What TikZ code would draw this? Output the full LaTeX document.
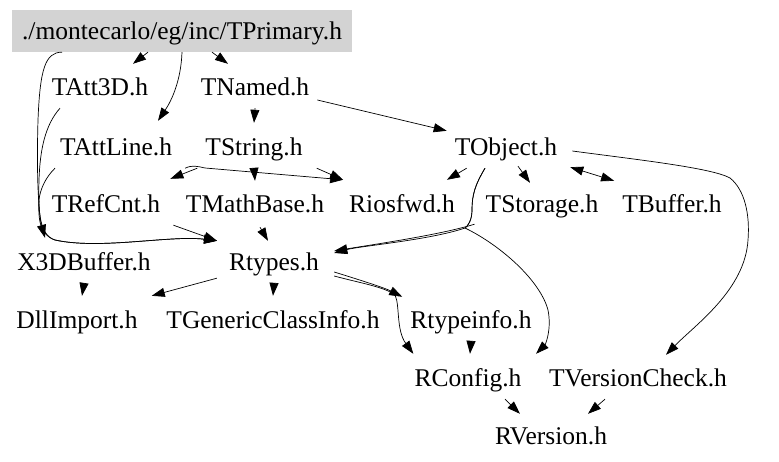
\documentclass[tikz,border=0pt]{standalone}
\usepackage{fontspec}
\setmainfont{Liberation Serif}
\usetikzlibrary{arrows.meta}
\definecolor{boxgray}{RGB}{211,211,211}
\begin{document}
\begin{tikzpicture}[x=1pt,y=-1pt,
  hdr/.style={font=\fontsize{25.5}{26}\selectfont, text height=17.5pt, text depth=0pt,
     inner xsep=8pt, inner ysep=12.25pt, anchor=center},
  rootbox/.style={hdr, fill=boxgray, inner xsep=10pt},
  dep/.style={line width=0.7pt, -{Triangle[length=13pt,width=9pt]}},
  bidep/.style={line width=0.7pt, {Triangle[length=13pt,width=9pt]}-{Triangle[length=13pt,width=9pt]}}
]
\useasboundingbox (0,0) rectangle (779,462);
\fill[white] (0,0) rectangle (779,462);

\node[rootbox] (tprim) at (182,31) {./montecarlo/eg/inc/TPrimary.h};
\node[hdr] (tatt3d) at (100,87) {TAtt3D.h};
\node[hdr] (tnamed) at (255,87) {TNamed.h};
\node[hdr] (tattline) at (116,147) {TAttLine.h};
\node[hdr] (tstring) at (254,147) {TString.h};
\node[hdr] (tobject) at (506,147) {TObject.h};
\node[hdr] (trefcnt) at (106,204) {TRefCnt.h};
\node[hdr] (tmathbase) at (255,204) {TMathBase.h};
\node[hdr] (riosfwd) at (402,204) {Riosfwd.h};
\node[hdr] (tstorage) at (542,204) {TStorage.h};
\node[hdr] (tbuffer) at (672,204) {TBuffer.h};
\node[hdr] (x3d) at (84,262) {X3DBuffer.h};
\node[hdr] (rtypes) at (274,262) {Rtypes.h};
\node[hdr] (dllimport) at (77,320) {DllImport.h};
\node[hdr] (tgeneric) at (273,320) {TGenericClassInfo.h};
\node[hdr] (rtypeinfo) at (471,320) {Rtypeinfo.h};
\node[hdr] (rconfig) at (468,378) {RConfig.h};
\node[hdr] (tversion) at (638,378) {TVersionCheck.h};
\node[hdr] (rversion) at (551,436) {RVersion.h};

% TPrimary edges
\draw[dep] ([xshift=-34pt]tprim.south) -- ([xshift=33pt,yshift=2pt]tatt3d.north);
\draw[dep] ([xshift=30pt]tprim.south) -- ([xshift=-27pt,yshift=2pt]tnamed.north);
\draw[dep] (tprim.south) .. controls (181,80) and (172,100) .. ([xshift=42pt,yshift=5pt]tattline.north);
\draw[dep] ([xshift=-120pt]tprim.south) .. controls (45,52) and (40,70) .. (38,120)
   .. controls (36,190) and (40,220) .. ([xshift=-39pt,yshift=3pt]x3d.north);

% TAtt3D, TAttLine -> Rtypes
\draw[dep] ([xshift=-40pt]tatt3d.south) .. controls (45,125) and (40,150) .. (39,180)
   .. controls (38,215) and (40,235) .. (55,240)
   .. controls (100,250) and (170,235) .. ([xshift=-57pt]rtypes.north);
\draw[dep] ([xshift=-61pt]tattline.south) .. controls (45,178) and (40,190) .. (39,200)
   .. controls (38,220) and (40,235) .. (55,240)
   .. controls (100,250) and (170,235) .. ([xshift=-57pt]rtypes.north);

% TNamed
\draw[dep] (tnamed.south) -- ([yshift=3pt]tstring.north);
\draw[dep] ([yshift=-13pt]tnamed.east) -- ([yshift=-5pt]tobject.north west);

% TString / TAttLine
\draw[dep] (tstring.south west) -- ([xshift=2pt,yshift=4pt]trefcnt.north east);
\draw[dep] ([xshift=5pt]tattline.south east) .. controls (192,165) and (196,166) .. (205,168)
   -- ([xshift=2pt,yshift=3pt]riosfwd.north west);
\draw[dep] ([xshift=6pt]tstring.south east) -- ([xshift=2pt,yshift=3pt]riosfwd.north west);
\draw[dep] (tstring.south) -- ([yshift=2pt]tmathbase.north);

% to Rtypes
\draw[dep] ([xshift=5pt]trefcnt.south east) -- ([xshift=-57pt]rtypes.north);
\draw[dep] ([xshift=5pt,yshift=-2pt]tmathbase.south) -- ([xshift=-6pt]rtypes.north);

% TObject
\draw[dep] ([xshift=20pt]tobject.south west) -- ([xshift=-16pt,yshift=3pt]riosfwd.north east);
\draw[dep] ([xshift=12pt,yshift=2pt]tobject.south) -- ([xshift=-12pt]tstorage.north);
\draw[bidep] ([xshift=5pt,yshift=1pt]tobject.south east) -- ([yshift=2pt]tbuffer.north west);
\draw[dep] ([xshift=7pt,yshift=-4pt]tobject.east) .. controls (640,160) and (712,168) .. (730,178)
   .. controls (745,190) and (750,215) .. (748,240)
   .. controls (745,290) and (695,325) .. ([xshift=28pt,yshift=2pt]tversion.north);
\draw[dep] ([xshift=-21pt]tobject.south) .. controls (475,185) and (472,195) .. (472,210)
   .. controls (472,220) and (468,226) .. (465,228)
   .. controls (430,240) and (360,246) .. ([xshift=7pt,yshift=9pt]rtypes.east);
\draw[dep] ([xshift=-21pt]tobject.south) .. controls (475,185) and (472,195) .. (472,210)
   .. controls (472,220) and (468,226) .. (465,228)
   .. controls (500,245) and (540,280) .. (548,310)
   .. controls (552,330) and (545,345) .. ([xshift=68pt,yshift=3pt]rconfig.north);
\draw[dep] ([xshift=-3pt,yshift=1pt]tstorage.south west) .. controls (440,235) and (370,245) .. ([xshift=7pt,yshift=11pt]rtypes.east);

% X3DBuffer, Rtypes
\draw[dep] (x3d.south) -- ([xshift=5pt,yshift=3pt]dllimport.north);
\draw[dep] ([xshift=-4pt,yshift=5pt]rtypes.south west) -- ([xshift=6pt,yshift=3pt]dllimport.north east);
\draw[dep] (rtypes.south) -- ([yshift=3pt]tgeneric.north);
\draw[dep] ([xshift=7pt,yshift=-10pt]rtypes.east) .. controls (360,280) and (385,288) .. ([yshift=2pt]rtypeinfo.north west);
\draw[dep] ([xshift=7pt,yshift=-14pt]rtypes.east) .. controls (360,283) and (385,287) .. (395,295)
   .. controls (400,305) and (396,330) .. ([xshift=7pt,yshift=3pt]rconfig.north west);

% lower levels
\draw[dep] (rtypeinfo.south) -- ([xshift=2pt,yshift=3pt]rconfig.north);
\draw[dep] ([xshift=37pt]rconfig.south) -- ([xshift=-31pt,yshift=1pt]rversion.north);
\draw[dep] ([xshift=-33pt]tversion.south) -- ([xshift=37pt,yshift=1pt]rversion.north);
\end{tikzpicture}
\end{document}
